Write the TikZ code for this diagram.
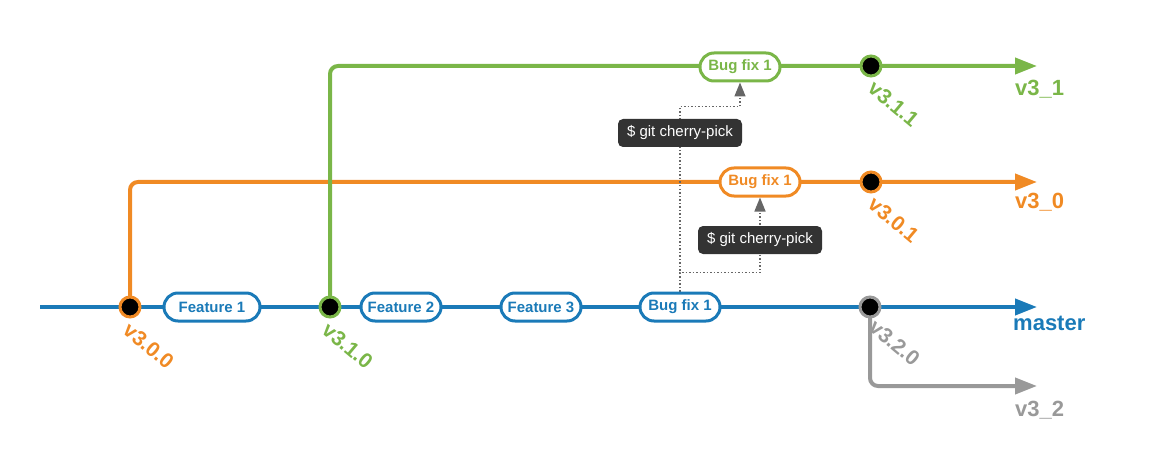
\documentclass[tikz,border=0pt]{standalone}
\usepackage{fontspec}
\setmainfont{Liberation Sans}
\usetikzlibrary{arrows.meta,positioning,backgrounds}
\definecolor{gitblue}{HTML}{1A7AB8}
\definecolor{gitorange}{HTML}{F08A24}
\definecolor{gitgreen}{HTML}{7AB648}
\definecolor{gitgray}{HTML}{999999}
\definecolor{cmddark}{HTML}{333333}
\definecolor{pickgray}{HTML}{666666}
\tikzset{
  branch/.style={line width=4pt, rounded corners=8pt, -{Triangle[length=22pt,width=16pt]}},
  commit/.style={circle, fill=black, draw=#1, line width=3pt, minimum size=20pt, inner sep=0pt},
  pill/.style={draw=#1, text=#1, fill=white, line width=3pt, rounded corners=14pt,
    minimum height=28pt, minimum width=80pt, inner xsep=6pt, font=\fontsize{15}{18}\selectfont\bfseries},
  cmdbox/.style={fill=cmddark, text=white, rounded corners=5pt, minimum width=124pt,
    minimum height=28pt, font=\fontsize{15}{18}\selectfont},
  pick/.style={pickgray, line width=1.5pt, dotted, -{Triangle[length=14pt,width=11pt]}},
  tag/.style={text=#1, rotate=-40, anchor=north west, inner sep=0pt, font=\fontsize{21}{24}\selectfont\bfseries},
  head/.style={text=#1, anchor=north west, inner sep=0pt, font=\fontsize{22}{25}\selectfont\bfseries}
}
\begin{document}
\begin{tikzpicture}[x=1pt, y=-1pt]
\useasboundingbox (0,0) rectangle (1173,476);
% commits
\node[commit=gitorange] (v300) at (130,307) {};
\node[commit=gitgreen] (v310) at (330,307) {};
\node[commit=gitgray] (v320) at (870,307) {};
\node[commit=gitorange] (v301) at (871,182) {};
\node[commit=gitgreen] (v311) at (871,66) {};
% branch ends
\coordinate (mstart) at (40,307);
\coordinate (mend) at (1037,307);
\coordinate (oend) at (1037,182);
\coordinate (gend) at (1037,66);
\coordinate (send) at (1037,386);
% changes
\node[pill=gitblue, minimum width=96pt] (feat1) at (212,307) {Feature 1};
\node[pill=gitblue] (feat2) at (401,307) {Feature 2};
\node[pill=gitblue] (feat3) at (541,307) {Feature 3};
\node[pill=gitblue] (bfm) at (680,307) {Bug fix 1};
\node[pill=gitorange] (bfo) at (760,182) {Bug fix 1};
\node[pill=gitgreen] (bfg) at (740,67) {Bug fix 1};
% commands
\node[cmdbox] (cp1) at (680,133) {\$ git cherry-pick};
\node[cmdbox] (cp2) at (760,240) {\$ git cherry-pick};
% version tags
\node[tag=gitorange] at ([shift={(1pt,-14pt)}]v300.center) {v3.0.0};
\node[tag=gitgreen] at ([shift={(0pt,-14pt)}]v310.center) {v3.1.0};
\node[tag=gitgray] at ([shift={(7pt,-11pt)}]v320.center) {v3.2.0};
\node[tag=gitorange] at ([shift={(5pt,-13pt)}]v301.center) {v3.0.1};
\node[tag=gitgreen] at ([shift={(5pt,-13pt)}]v311.center) {v3.1.1};
% branch names
\node[head=gitgreen] at ([shift={(-22pt,-14pt)}]gend) {v3\_1};
\node[head=gitorange] at ([shift={(-22pt,-11pt)}]oend) {v3\_0};
\node[head=gitblue] at ([shift={(-24pt,-9pt)}]mend) {master};
\node[head=gitgray] at ([shift={(-22pt,-15pt)}]send) {v3\_2};
\begin{scope}[on background layer]
\draw[branch, gitblue] (mstart) -- (mend);
\draw[branch, gitorange] (v300.center) |- (oend);
\draw[branch, gitgreen] (v310.center) |- (gend);
\draw[branch, gitgray] (v320.center) |- (send);
\draw[pick] (bfm.north) -- ([yshift=185pt]bfm.north) -| (bfg.south);
\draw[pick] (bfm.north) -- ([yshift=19pt]bfm.north) -| (bfo.south);
\end{scope}
\end{tikzpicture}
\end{document}
